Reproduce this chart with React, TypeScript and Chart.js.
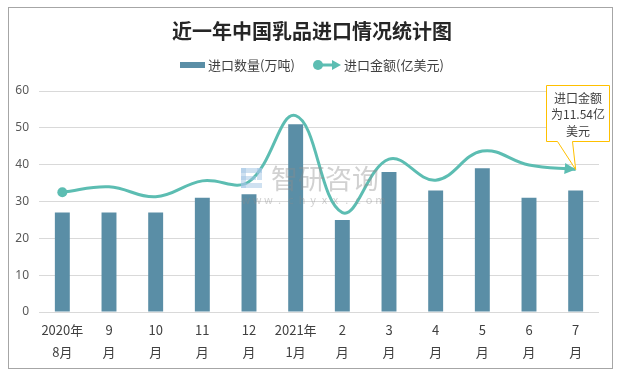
import React, { useEffect, useRef } from "react";
import { Chart, registerables } from "chart.js";
Chart.register(...registerables);

const titleText = "近一年中国乳品进口情况统计图";
const categories: string[][] = [
  ["2020年", "8月"], ["9", "月"], ["10", "月"], ["11", "月"], ["12", "月"],
  ["2021年", "1月"], ["2", "月"], ["3", "月"], ["4", "月"], ["5", "月"], ["6", "月"], ["7", "月"],
];
const volumeLabel = "进口数量(万吨)";
const valueLabel = "进口金额(亿美元)";
const volume = [27, 27, 27, 31, 32, 51, 25, 38, 33, 39, 31, 33];
const value = [32.5, 34, 31.3, 35.6, 35.4, 53.3, 27, 41.5, 35.8, 43.7, 39.9, 38.7];
const yMin = 0;
const yMax = 60;
const yStep = 10;
const calloutLines = ["进口金额", "为11.54亿", "美元"];
const watermarkText = "智研咨询";
const watermarkUrl = "www.chyxx.com";

const BAR = "#5A8EA6";
const LINE = "#5CBDB2";
const CJK = "'Noto Sans CJK SC', 'Noto Sans', sans-serif";

function drawArrow(ctx: CanvasRenderingContext2D, x: number, y: number, ang: number, len: number, hw: number) {
  ctx.save();
  ctx.translate(x, y);
  ctx.rotate(ang);
  ctx.beginPath();
  ctx.moveTo(0, 0);
  ctx.lineTo(-len, -hw);
  ctx.lineTo(-len, hw);
  ctx.closePath();
  ctx.fillStyle = LINE;
  ctx.fill();
  ctx.restore();
}

function drawWatermark(ctx: CanvasRenderingContext2D) {
  ctx.save();
  ctx.fillStyle = "rgba(160,195,228,0.5)";
  ctx.fillRect(241, 168, 21, 5);
  ctx.fillRect(241, 176, 15, 4);
  ctx.fillRect(241, 183, 21, 5);
  ctx.fillRect(241, 168, 5, 20);
  ctx.fillRect(257, 168, 5, 12);
  ctx.fillStyle = "rgba(140,140,140,0.4)";
  ctx.font = `27px ${CJK}`;
  ctx.textAlign = "left";
  ctx.textBaseline = "middle";
  ctx.fillText(watermarkText, 271, 179);
  ctx.font = `11px ${CJK}`;
  ctx.textAlign = "center";
  watermarkUrl.split("").forEach((c, i) => {
    ctx.fillText(c, 246 + i * 11.2, 200);
  });
  ctx.restore();
}

const decor = {
  id: "decor",
  beforeDraw(chart: any) {
    const ctx: CanvasRenderingContext2D = chart.ctx;
    ctx.save();
    ctx.fillStyle = "#ffffff";
    ctx.fillRect(0, 0, chart.width, chart.height);
    ctx.strokeStyle = "#A6A6A6";
    ctx.lineWidth = 1;
    ctx.strokeRect(8.5, 7.5, 604, 361);
    ctx.fillStyle = "#262626";
    ctx.font = `bold 20px ${CJK}`;
    ctx.textAlign = "center";
    ctx.textBaseline = "middle";
    ctx.fillText(titleText, 312, 31);
    ctx.font = `13px ${CJK}`;
    ctx.textAlign = "left";
    ctx.fillStyle = BAR;
    ctx.fillRect(180, 62, 25, 6);
    ctx.fillStyle = "#404040";
    ctx.fillText(volumeLabel, 208, 65);
    ctx.strokeStyle = LINE;
    ctx.lineWidth = 3;
    ctx.beginPath();
    ctx.moveTo(318, 65);
    ctx.lineTo(334, 65);
    ctx.stroke();
    ctx.fillStyle = LINE;
    ctx.beginPath();
    ctx.arc(318, 65, 5, 0, Math.PI * 2);
    ctx.fill();
    drawArrow(ctx, 341, 65, 0, 9, 5);
    ctx.fillStyle = "#404040";
    ctx.fillText(valueLabel, 344, 65);
    ctx.restore();
  },
  afterDatasetsDraw(chart: any) {
    const ctx: CanvasRenderingContext2D = chart.ctx;
    drawWatermark(ctx);
    const meta = chart.getDatasetMeta(1);
    const pts = meta.data;
    const last = pts[pts.length - 1];
    const prev = pts[pts.length - 2];
    let cx = last.cp1x, cy = last.cp1y;
    if (cx === undefined || (Math.abs(cx - last.x) < 0.5 && Math.abs(cy - last.y) < 0.5)) {
      cx = prev.x; cy = prev.y;
    }
    const ang = Math.atan2(last.y - cy, last.x - cx);
    drawArrow(ctx, last.x, last.y, ang, 11, 5.5);

    ctx.save();
    const bx = 546, by = 85, bw = 63, bh = 56;
    ctx.fillStyle = "#ffffff";
    ctx.strokeStyle = "#FFC000";
    ctx.lineWidth = 1;
    ctx.beginPath();
    ctx.moveTo(bx + 0.5, by + 0.5);
    ctx.lineTo(bx + bw + 0.5, by + 0.5);
    ctx.lineTo(bx + bw + 0.5, by + bh + 0.5);
    ctx.lineTo(572.5, by + bh + 0.5);
    ctx.lineTo(last.x, last.y);
    ctx.lineTo(557.5, by + bh + 0.5);
    ctx.lineTo(bx + 0.5, by + bh + 0.5);
    ctx.closePath();
    ctx.fill();
    ctx.stroke();
    ctx.fillStyle = "#404040";
    ctx.font = `12px ${CJK}`;
    ctx.textAlign = "center";
    ctx.textBaseline = "middle";
    calloutLines.forEach((t, i) => ctx.fillText(t, bx + bw / 2 + 0.5, 98 + i * 16.5));
    ctx.restore();
  },
};

export default function App() {
  const ref = useRef<HTMLCanvasElement | null>(null);
  useEffect(() => {
    if (!ref.current) return;
    const chart = new Chart(ref.current, {
      type: "bar",
      data: {
        labels: categories as any,
        datasets: [
          {
            type: "bar",
            label: volumeLabel,
            data: volume,
            backgroundColor: BAR,
            categoryPercentage: 1,
            barPercentage: 0.32,
            order: 2,
          } as any,
          {
            type: "line",
            label: valueLabel,
            data: value,
            borderColor: LINE,
            backgroundColor: LINE,
            borderWidth: 3,
            tension: 0.4,
            pointRadius: value.map((_, i) => (i === 0 ? 5 : 0)),
            pointBackgroundColor: LINE,
            pointBorderWidth: 0,
            order: 1,
          } as any,
        ],
      },
      options: {
        animation: false,
        responsive: false,
        devicePixelRatio: 1,
        layout: { padding: { top: 91, right: 22, left: 0, bottom: 0 } },
        plugins: { legend: { display: false }, title: { display: false }, tooltip: { enabled: false } },
        scales: {
          x: {
            offset: true,
            grid: { display: false, drawTicks: false },
            border: { display: false },
            ticks: {
              color: "#404040",
              padding: 7,
              maxRotation: 0,
              autoSkip: false,
              font: { family: CJK, size: 13, lineHeight: 22 / 13 },
            },
            afterFit(scale: any) { scale.height = 61; },
          },
          y: {
            min: yMin,
            max: yMax,
            grid: { color: "#D9D9D9", drawTicks: false },
            border: { display: false },
            ticks: {
              stepSize: yStep,
              color: "#595959",
              padding: 10,
              font: { family: "'Noto Sans', sans-serif", size: 12 },
            },
            afterFit(scale: any) { scale.width = 39; },
          },
        },
      } as any,
      plugins: [decor],
    });
    return () => chart.destroy();
  }, []);
  return (
    <div style={{ position: "fixed", left: 0, top: 0, width: 621, height: 373 }}>
      <canvas ref={ref} width={621} height={373} style={{ display: "block" }} />
    </div>
  );
}
